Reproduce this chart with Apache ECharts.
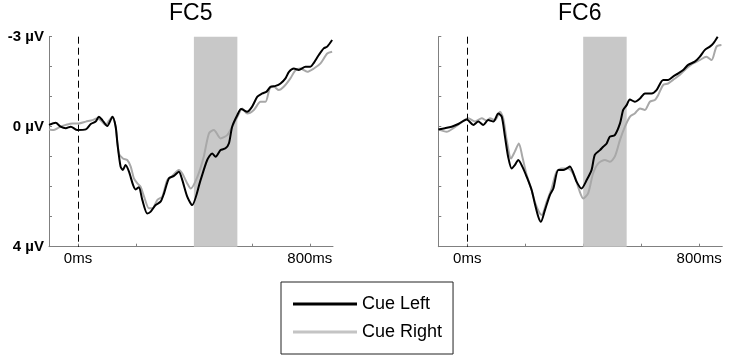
<!DOCTYPE html>
<html>
<head>
<meta charset="utf-8">
<script src="https://cdn.jsdelivr.net/npm/echarts@6/dist/echarts.min.js"></script>
<style>html,body{margin:0;padding:0;background:#fff}#c{width:731px;height:358px}</style>
</head>
<body>
<div id="c"></div>
<script>
// ---- data (time in ms, amplitude in µV) ----
const panelTitles = ['FC5', 'FC6'];
const seriesNames = ['Cue Left', 'Cue Right'];
const xTickValues = [0, 200, 400, 600, 800];
const xLabelValues = [0, 800];
const yLabelValues = [-3, 0, 4];
const cueOnset = 0;
const shadeRange = [400, 550];

const fc5Left = [[-100,-0.06],[-77,-0.13],[-60,0],[-42,0.05],[-25,0],[-2,0.11],[27,0.09],[44,-0.09],[61,-0.17],[72,-0.33],[84,-0.22],[101,-0.02],[119,-0.33],[130,0],[136,0.55],[147,1.33],[155,1.44],[164,1.28],[176,1.5],[190,1.94],[199,2.09],[210,2.02],[222,2.44],[239,2.89],[251,2.83],[268,2.61],[285,2.5],[297,2.22],[314,1.72],[331,1.64],[348,1.5],[360,1.78],[377,2.33],[394,2.61],[423,1.78],[446,1.11],[463,0.89],[475,1.0],[492,0.78],[509,0.72],[521,0.55],[532,0],[550,-0.39],[563,-0.59],[584,-0.5],[601,-0.67],[619,-1.0],[636,-1.11],[651,-1.17],[664,-1.33],[682,-1.36],[699,-1.44],[716,-1.61],[728,-1.83],[745,-1.94],[762,-1.89],[785,-2.0],[802,-2.0],[814,-2.13],[831,-2.39],[848,-2.61],[860,-2.67],[877,-2.89]];
const fc5Right = [[-100,0.09],[-83,0.11],[-65,0.02],[-42,-0.06],[-19,-0.11],[3,-0.11],[27,-0.17],[50,-0.22],[67,-0.28],[78,-0.22],[96,-0.06],[107,-0.2],[119,-0.33],[130,0],[141,0.89],[155,1.06],[170,1.11],[182,1.33],[193,1.72],[205,1.89],[216,2.0],[228,2.33],[245,2.72],[257,2.72],[274,2.44],[291,2.33],[308,1.78],[326,1.64],[348,1.44],[360,1.56],[377,1.89],[389,2.06],[412,1.67],[434,1.0],[452,0.22],[469,0.11],[492,0.39],[515,0.28],[532,0],[550,-0.33],[567,-0.61],[584,-0.44],[607,-0.56],[630,-0.83],[647,-0.83],[662,-1.28],[676,-1.33],[693,-1.22],[710,-1.33],[733,-1.61],[751,-1.89],[768,-1.94],[791,-1.83],[814,-1.94],[837,-2.11],[860,-2.44],[877,-2.5]];
const fc6Left = [[-100,0.09],[-77,0.05],[-54,0],[-31,-0.09],[-2,-0.24],[21,-0.06],[38,-0.17],[55,-0.06],[72,-0.22],[90,-0.17],[107,-0.44],[119,-0.33],[130,0.33],[141,1.0],[153,1.39],[164,1.28],[176,1.11],[190,1.33],[205,1.67],[222,2.11],[233,2.56],[245,3.0],[254,3.17],[268,2.78],[285,2.28],[297,2.06],[314,1.44],[331,1.44],[343,1.39],[354,1.33],[377,1.83],[394,2.06],[412,1.78],[429,1.44],[440,0.94],[458,0.78],[469,0.67],[481,0.56],[492,0.33],[509,0.28],[527,-0.11],[538,-0.56],[550,-0.72],[561,-0.91],[578,-0.83],[596,-0.94],[613,-1.11],[636,-1.11],[653,-1.22],[676,-1.56],[693,-1.56],[710,-1.67],[728,-1.78],[745,-1.89],[762,-2.06],[785,-2.17],[802,-2.33],[820,-2.56],[837,-2.67],[849,-2.78],[864,-3.0]];
const fc6Right = [[-100,0.09],[-71,0.17],[-48,0.05],[-25,-0.11],[3,-0.28],[27,-0.17],[50,-0.28],[67,-0.2],[78,-0.28],[96,-0.22],[113,-0.5],[124,-0.28],[136,0.44],[151,1.06],[164,0.83],[178,0.56],[190,1.0],[205,1.61],[222,2.11],[233,2.5],[247,2.83],[257,2.94],[274,2.5],[291,2.06],[308,1.5],[326,1.39],[348,1.39],[371,1.67],[386,2.11],[400,2.39],[417,2.22],[434,1.56],[452,1.22],[475,1.11],[492,1.17],[509,1.0],[527,0.44],[544,0],[561,-0.33],[578,-0.44],[596,-0.61],[613,-0.56],[630,-0.83],[647,-0.89],[659,-1.06],[676,-1.39],[693,-1.44],[710,-1.56],[733,-1.72],[756,-1.94],[779,-2.11],[802,-2.22],[825,-2.33],[843,-2.22],[860,-2.67],[877,-2.72]];

// ---- chart ----
const FONT = "'Liberation Sans', Arial, sans-serif";
const AXIS_COLOR = '#808080';
const LEFT_COLOR = '#000000';
const RIGHT_COLOR = '#a8a8a8';

const chart = echarts.init(document.getElementById('c'), null, {renderer: 'canvas'});

function xAxisFor(i) {
  return {
    type: 'value', gridIndex: i, min: -100, max: 880,
    axisLine: {show: true, onZero: false, lineStyle: {color: AXIS_COLOR, width: 1}},
    axisTick: {show: true, inside: true, length: 3, customValues: xTickValues, lineStyle: {color: AXIS_COLOR}},
    axisLabel: {show: true, customValues: xLabelValues, formatter: v => v + 'ms', fontFamily: FONT, fontSize: 15, color: '#000', margin: 5},
    splitLine: {show: false}
  };
}
function yAxisFor(i, labels) {
  return {
    type: 'value', gridIndex: i, inverse: true, min: -3, max: 4, interval: 1,
    axisLine: {show: true, onZero: false, lineStyle: {color: AXIS_COLOR, width: 1}},
    axisTick: {show: true, inside: true, length: 3, lineStyle: {color: AXIS_COLOR}},
    axisLabel: {show: labels, customValues: yLabelValues, formatter: v => v + ' µV', fontFamily: FONT, fontSize: 15, fontWeight: 'bold', color: '#000', margin: 5},
    splitLine: {show: false}
  };
}
function markerSeries(i) {
  return {
    type: 'line', xAxisIndex: i, yAxisIndex: i, data: [], z: 1, silent: true,
    markArea: {silent: true, itemStyle: {color: '#c8c8c8'}, data: [[{xAxis: shadeRange[0]}, {xAxis: shadeRange[1]}]]},
    markLine: {silent: true, symbol: 'none', label: {show: false},
      lineStyle: {color: '#000', width: 1, type: [7, 4]}, data: [{xAxis: cueOnset}]}
  };
}
function lineSeries(i, name, data, color) {
  return {
    type: 'line', name: name, xAxisIndex: i, yAxisIndex: i, data: data, z: 3,
    showSymbol: false, symbol: 'none', smooth: 0.25,
    lineStyle: {color: color, width: 2}, itemStyle: {color: color}
  };
}

chart.setOption({
  animation: false,
  title: [
    {text: panelTitles[0], left: 169, top: 2, padding: 0, textStyle: {fontFamily: FONT, fontSize: 23, fontWeight: 'normal', color: '#000'}},
    {text: panelTitles[1], left: 558, top: 2, padding: 0, textStyle: {fontFamily: FONT, fontSize: 23, fontWeight: 'normal', color: '#000'}}
  ],
  grid: [
    {left: 49, top: 36.7, width: 284, height: 210},
    {left: 438.3, top: 36.7, width: 284, height: 210}
  ],
  xAxis: [xAxisFor(0), xAxisFor(1)],
  yAxis: [yAxisFor(0, true), yAxisFor(1, false)],
  legend: {
    data: [
      {name: seriesNames[0], itemStyle: {color: '#000000'}},
      {name: seriesNames[1], itemStyle: {color: '#c4c4c4'}}
    ],
    orient: 'vertical', left: 281, top: 282,
    icon: 'rect', itemWidth: 64, itemHeight: 3, itemGap: 8,
    padding: [12, 11, 12, 12], borderColor: '#222', borderWidth: 1,
    textStyle: {fontFamily: FONT, fontSize: 18, color: '#000', lineHeight: 20},
    selectedMode: false
  },
  series: [
    markerSeries(0), markerSeries(1),
    lineSeries(0, seriesNames[1], fc5Right, RIGHT_COLOR),
    lineSeries(0, seriesNames[0], fc5Left, LEFT_COLOR),
    lineSeries(1, seriesNames[1], fc6Right, RIGHT_COLOR),
    lineSeries(1, seriesNames[0], fc6Left, LEFT_COLOR)
  ]
});
</script>
</body>
</html>
